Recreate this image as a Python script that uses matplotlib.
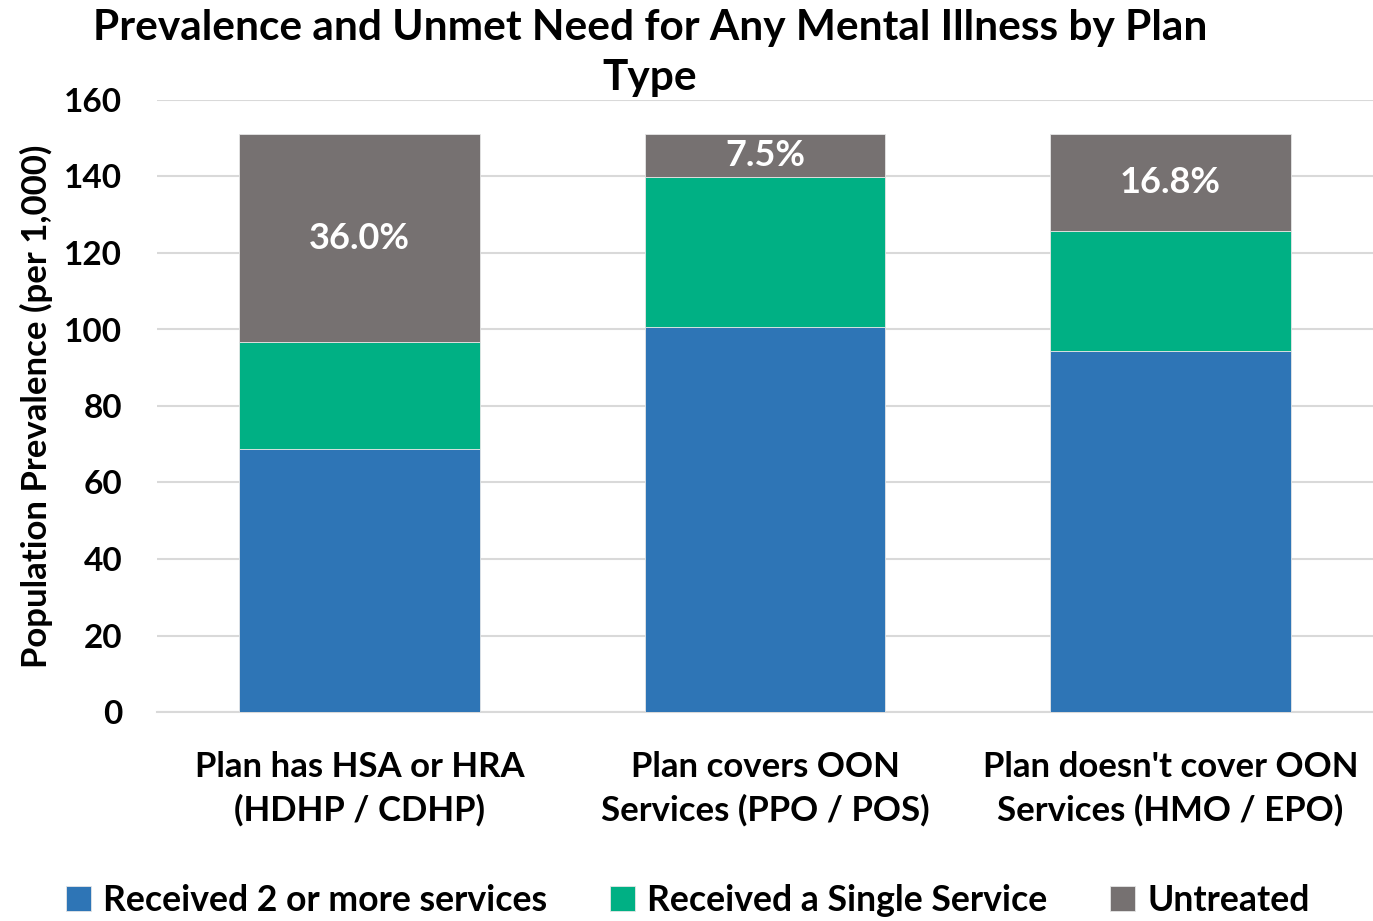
import matplotlib
matplotlib.use("Agg")
import matplotlib.pyplot as plt
import numpy as np

# Population prevalence per 1,000, split by level of treatment
plans = [
    "Plan has HSA or HRA\n(HDHP / CDHP)",
    "Plan covers OON\nServices (PPO / POS)",
    "Plan doesn't cover OON\nServices (HMO / EPO)",
]
multiple_services = [68.8, 100.7, 94.4]
single_service = [27.9, 39.1, 31.3]
untreated = [54.4, 11.3, 25.4]

series_names = ["Received 2 or more services", "Received a Single Service", "Untreated"]
colors = ["#2E75B6", "#00B084", "#767171"]
title_lines = ["Prevalence and Unmet Need for Any Mental Illness by Plan", "Type"]

plt.rcParams["font.family"] = ["Lato", "DejaVu Sans"]
plt.rcParams["font.weight"] = "bold"

fig = plt.figure(figsize=(13.73, 9.21), dpi=100)
ax = fig.add_axes([157 / 1373, 1 - 712 / 921, 1216 / 1373, 612 / 921])

x = np.arange(len(plans))
width = 0.594
bottom = np.zeros(len(plans))
bars = []
for values, color, name in zip([multiple_services, single_service, untreated], colors, series_names):
    b = ax.bar(x, values, width, bottom=bottom, color=color, label=name,
               edgecolor="#e6e6e6", linewidth=0.6, zorder=3)
    bars.append(b)
    bottom = bottom + np.array(values)

# share of untreated, written inside the top segment
totals = bottom
for i, rect in enumerate(bars[2]):
    share = untreated[i] / totals[i] * 100
    cy = rect.get_y() + rect.get_height() / 2
    ax.text(rect.get_x() + rect.get_width() / 2, cy, f"{share:.1f}%",
            ha="center", va="center", color="white", fontsize=26,
            fontweight="bold", zorder=4)

ax.set_xlim(-0.5, 2.5)
ax.set_ylim(0, 160)
ax.set_yticks(range(0, 161, 20))
ax.yaxis.grid(True, color="#d9d9d9", linewidth=1.5, zorder=0)
ax.set_axisbelow(True)
for side in ["left", "right", "top"]:
    ax.spines[side].set_visible(False)
ax.spines["bottom"].set_color("#d9d9d9")
ax.spines["bottom"].set_linewidth(1.5)
ax.tick_params(axis="both", length=0, labelsize=24)
ax.tick_params(axis="y", pad=25)
ax.tick_params(axis="x", pad=28)
ax.set_xticks(x)
ax.set_xticklabels(plans, fontsize=25, linespacing=1.4)

ax.set_ylabel("Population Prevalence (per 1,000)", fontsize=25,
              fontweight="bold", labelpad=8)

# title wraps onto a second line, each line placed on its own baseline
for line, base_y in zip(title_lines, [40, 90]):
    fig.text(650 / 1373, 1 - base_y / 921, line, ha="center", va="baseline",
             fontsize=30.5, fontweight="bold")

fig.legend(loc="lower center", bbox_to_anchor=(0.501, -0.03), ncol=3, frameon=False,
           fontsize=25.7, handlelength=0.7, handleheight=0.7, handletextpad=0.35,
           columnspacing=1.75)

fig.savefig("out.png", dpi=100)
